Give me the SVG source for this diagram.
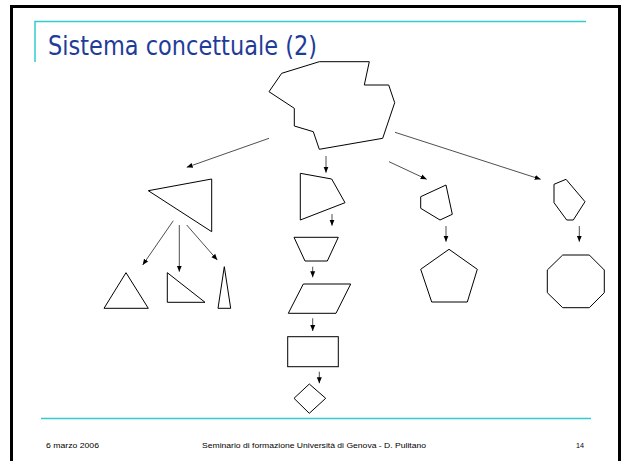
<svg xmlns="http://www.w3.org/2000/svg" width="621" height="461" viewBox="0 0 621 461">
<style>
.shape{fill:none;stroke:#000;stroke-width:1;stroke-linejoin:miter}
.arr{fill:none;stroke:#222;stroke-width:0.8;marker-end:url(#ah)}
.rule{stroke:#33CCCC;stroke-width:1.5;fill:none}
.foot{font-family:"Liberation Sans",Arial,sans-serif;font-size:8px;fill:#000}
</style>
<defs>
<marker id="ah" markerUnits="userSpaceOnUse" markerWidth="6" markerHeight="6" refX="6" refY="3" orient="auto">
<path d="M0,0.5 L6,3 L0,5.5 z" fill="#000"/>
</marker>
</defs>
<rect width="621" height="461" fill="#fff"/>
<rect x="11.5" y="6.5" width="608" height="470" fill="none" stroke="#000" stroke-width="3"/>
<g id="title">
<path class="rule" d="M35,62 V21.5 H586"/>
<text x="48" y="55" font-family="Tahoma,'DejaVu Sans','Liberation Sans',sans-serif" font-size="26" fill="#1F3C99" textLength="269" lengthAdjust="spacingAndGlyphs">Sistema concettuale (2)</text>
</g>
<g id="root"><polygon class="shape" points="319.3,61.7 369.3,61.7 364.3,85 388.7,85 394.7,102.7 382.7,138.3 319.3,149.3 313.3,131.7 294.3,126 294.3,108.3 269,91.7 281.7,73.3"/></g>
<g id="bigTriangle"><polygon class="shape" points="148.3,190.7 211.7,179 211.7,231.7"/></g>
<g id="quad"><polygon class="shape" points="300.3,173.3 331.7,179 345,202.7 300.3,220"/></g>
<g id="smallPentagon"><polygon class="shape" points="420.7,196.7 446,185 452.3,214.3 440,220 420.7,208.3"/></g>
<g id="hexagon"><polygon class="shape" points="566,179.3 585,201.7 573.3,220 566.7,220 554,202.7 554,184.3"/></g>
<g id="equilateral"><polygon class="shape" points="126,272.7 148.3,308.3 104,308.3"/></g>
<g id="rightTriangle"><polygon class="shape" points="167.3,272.7 205,302.3 167.3,302.3"/></g>
<g id="thinTriangle"><polygon class="shape" points="224.3,266.7 230.7,308.3 218,308.3"/></g>
<g id="trapezoid"><polygon class="shape" points="294,237.3 338.3,237.3 327.3,261 305,261"/></g>
<g id="parallelogram"><polygon class="shape" points="303.3,284 350.7,284 336,313.3 288.3,313.3"/></g>
<g id="rectangle"><rect class="shape" x="287.7" y="336.7" width="50.6" height="30"/></g>
<g id="diamond"><polygon class="shape" points="309.3,384 325.7,398.3 309.3,413.3 294,398.3"/></g>
<g id="pentagon"><polygon class="shape" points="449,249.3 477.3,269.3 467.3,302 431.7,302 420.7,269.3"/></g>
<g id="octagon"><polygon class="shape" points="562.7,255 589.3,255 604.3,270 604.3,292.7 589.3,307.7 562.7,307.7 547.3,292.7 547.3,270"/></g>
<g id="connectors">
<line class="arr" x1="269" y1="138.3" x2="186.7" y2="167.3"/>
<line class="arr" x1="326" y1="156" x2="326" y2="172.7"/>
<line class="arr" x1="395" y1="132.3" x2="540.7" y2="179.3"/>
<line class="arr" x1="389" y1="161.7" x2="426.7" y2="179.3"/>
<line class="arr" x1="332" y1="214" x2="332" y2="225.7"/>
<line class="arr" x1="173.3" y1="220.7" x2="142.7" y2="265"/>
<line class="arr" x1="179.3" y1="225" x2="179.3" y2="271.7"/>
<line class="arr" x1="186.7" y1="225" x2="217.3" y2="260"/>
<line class="arr" x1="312.7" y1="266.7" x2="312.7" y2="277.3"/>
<line class="arr" x1="312.7" y1="318.3" x2="312.7" y2="331"/>
<line class="arr" x1="319.3" y1="371.7" x2="319.3" y2="383.3"/>
<line class="arr" x1="446" y1="226" x2="446" y2="241.7"/>
<line class="arr" x1="579.3" y1="226" x2="579.3" y2="241.7"/>
</g>
<g id="footer">
<line class="rule" x1="41" y1="418.5" x2="591" y2="418.5"/>
<text class="foot" x="46" y="448" textLength="53" lengthAdjust="spacingAndGlyphs">6 marzo 2006</text>
<text class="foot" x="202" y="448" textLength="224" lengthAdjust="spacingAndGlyphs">Seminario di formazione Università di Genova - D. Pulitano</text>
<text class="foot" x="576" y="448" textLength="8" lengthAdjust="spacingAndGlyphs">14</text>
</g>
</svg>
